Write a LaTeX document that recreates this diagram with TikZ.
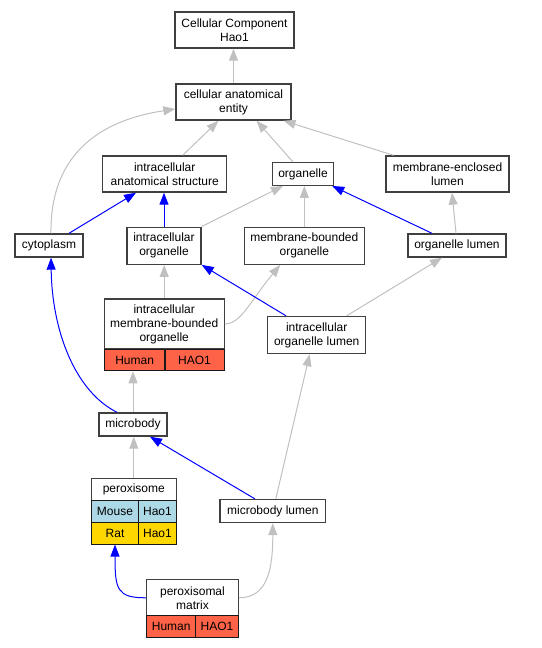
\documentclass[tikz,border=0pt]{standalone}
\usepackage{fontspec}
\setmainfont{Liberation Sans}
\usetikzlibrary{arrows.meta}
\definecolor{tomato}{HTML}{FF6347}
\definecolor{lblue}{HTML}{ADD8E6}
\definecolor{gold}{HTML}{FFD700}
\definecolor{edgegray}{HTML}{C0C0C0}
\begin{document}
\begin{tikzpicture}[x=1pt, y=-1pt, font=\fontsize{12}{14}\selectfont,
    box/.style={draw=black!75, line width=1.4pt, fill=white, rectangle, align=center, inner sep=0pt},
    cell/.style={draw=black!90, line width=1pt, rectangle, align=center, inner sep=0pt, minimum height=21.5pt},
    gy/.style={-{Triangle[length=12pt, width=9pt, fill=edgegray]}, draw=edgegray, line width=1pt},
    bl/.style={-{Triangle[length=12pt, width=9pt, fill=blue]}, draw=blue, line width=1pt}]
                \useasboundingbox (0,0) rectangle (541,648);
                % nodes
                \node[box, minimum width=119pt, minimum height=36pt] (cc) at (234.5,30) {Cellular Component\\Hao1};
                \node[box, minimum width=115pt, minimum height=36pt] (cae) at (233.5,102) {cellular anatomical\\entity};
                \node[box, minimum width=124pt, minimum height=36pt] (ias) at (164.7,174) {intracellular\\anatomical structure};
                \node[box, minimum width=61pt, minimum height=22.5pt] (org) at (303,174) {organelle};
                \node[box, minimum width=123pt, minimum height=36pt] (mel) at (447.5,174) {membrane-enclosed\\lumen};
                \node[box, minimum width=68pt, minimum height=23pt] (cyt) at (49,245.5) {cytoplasm};
                \node[box, minimum width=74pt, minimum height=37pt] (io) at (164,245.7) {intracellular\\organelle};
                \node[box, minimum width=120pt, minimum height=37pt] (mbo) at (304.3,245.7) {membrane-bounded\\organelle};
                \node[box, minimum width=98pt, minimum height=23pt] (ol) at (457,245.5) {organelle lumen};
                \node[box, minimum width=120pt, minimum height=50pt] (imbo) at (164.2,324) {intracellular\\membrane-bounded\\organelle};
                \node[cell, fill=tomato, minimum width=60.7pt] (imboh) at (134.6,360) {Human};
                \node[cell, fill=tomato, minimum width=59pt] (imbog) at (194.5,360) {HAO1};
                \node[box, minimum width=98pt, minimum height=37pt] (iol) at (316.7,335) {intracellular\\organelle lumen};
                \node[box, minimum width=68pt, minimum height=23pt] (mb) at (133,424.5) {microbody};
                \node[box, minimum width=85pt, minimum height=22pt] (px) at (133.8,489.7) {peroxisome};
                \node[cell, fill=lblue, minimum width=47.4pt] (pxmouse) at (115,511.7) {Mouse};
                \node[cell, fill=lblue, minimum width=37.6pt] (pxmouseg) at (157.5,511.7) {Hao1};
                \node[cell, fill=gold, minimum width=47.4pt] (pxrat) at (115,533.3) {Rat};
                \node[cell, fill=gold, minimum width=37.6pt] (pxratg) at (157.5,533.3) {Hao1};
                \node[box, minimum width=105.7pt, minimum height=23pt] (mbl) at (272.8,511) {microbody lumen};
                \node[box, minimum width=91.6pt, minimum height=36.3pt] (pm) at (192.5,597.8) {peroxisomal\\matrix};
                \node[cell, fill=tomato, minimum width=49pt] (pmh) at (171.2,626.6) {Human};
                \node[cell, fill=tomato, minimum width=42.6pt] (pmg) at (217,626.6) {HAO1};
                % edges
                \draw[gy] (cae.north) -- (cae.north |- cc.south);
                \draw[gy] ([xshift=18pt]ias.north) -- ([xshift=-15pt]cae.south);
                \draw[gy] ([xshift=-10pt]org.north) -- ([xshift=23pt]cae.south);
                \draw[gy] ([xshift=-54pt]mel.north) -- ([xshift=50pt]cae.south);
                \draw[gy] ([xshift=2pt]cyt.north) .. controls +(-1,-70) and +(-86,13) .. ([yshift=-7pt]cae.west);
                \draw[gy] (io.north east) -- ([xshift=-20pt]org.south);
                \draw[gy] (mbo.north) -- (mbo.north |- org.south);
                \draw[gy] ([xshift=-1pt]ol.north) -- ([xshift=4.5pt]mel.south);
                \draw[gy] (imbo.north) -- (imbo.north |- io.south);
                \draw[gy] (imbo.east) .. controls +(16,0) and +(-30,36) .. ([xshift=-24pt]mbo.south);
                \draw[gy] ([xshift=30pt]iol.north) -- ([xshift=-15pt]ol.south);
                \draw[gy] (mb.north) -- (mb.north |- imboh.south);
                \draw[gy] (px.north) -- (px.north |- mb.south);
                \draw[gy] ([xshift=3pt]mbl.north) -- ([xshift=-7pt]iol.south);
                \draw[gy] (pm.east) .. controls +(29,0) and +(0,45) .. (mbl.south);
                \draw[bl] ([xshift=20pt]cyt.north) -- ([xshift=-28.7pt]ias.south);
                \draw[bl] (io.north) -- (io.north |- ias.south);
                \draw[bl] ([xshift=-25pt]ol.north) -- ([xshift=-2pt]org.south east);
                \draw[bl] ([xshift=-30.7pt]iol.north) -- (io.south east);
                \draw[bl] ([xshift=-16pt]mb.north) .. controls +(-42,-21) and +(1,73) .. ([xshift=2pt]cyt.south);
                \draw[bl] ([xshift=-18pt]mbl.north) -- ([xshift=17pt]mb.south);
                \draw[bl] (pm.west) .. controls +(-29,0) and +(0,45) .. (pxrat.south);
            \end{tikzpicture}
\end{document}
